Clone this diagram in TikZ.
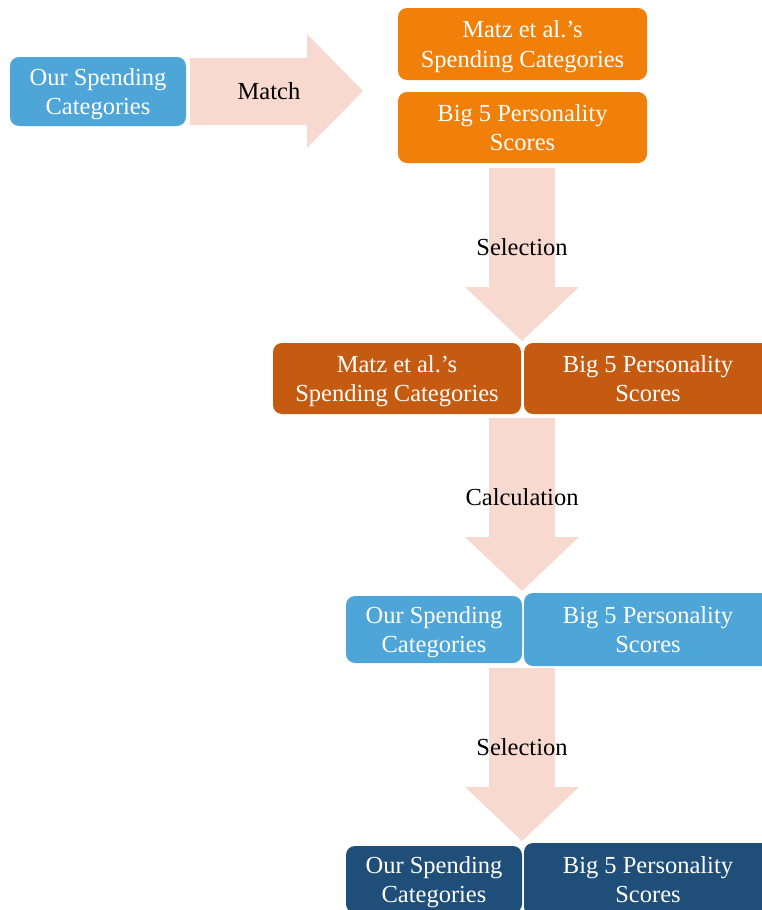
\documentclass[tikz,border=0pt]{standalone}
\usepackage{fontspec}
\setmainfont{Liberation Serif}
\definecolor{boxblue}{HTML}{4EA5D8}
\definecolor{boxorange}{HTML}{F0800A}
\definecolor{boxrust}{HTML}{C55A11}
\definecolor{boxnavy}{HTML}{1F4E79}
\definecolor{arrowpink}{HTML}{F8D9CF}
\begin{document}
\begin{tikzpicture}[x=1pt,y=-1pt,
  box/.style={rectangle, rounded corners=9pt, inner sep=0pt, align=center,
    text depth=0pt, text=white, font=\fontsize{24.5pt}{29.5pt}\selectfont},
  lbl/.style={inner sep=0pt, text=black, font=\fontsize{24.5pt}{29.5pt}\selectfont},
  arrowfill/.style={fill=arrowpink}]
\useasboundingbox (0,0) rectangle (762,910);
\clip (0,0) rectangle (762,910);
% block arrows
\newcommand\blockdown[1]{%
  \fill[arrowfill] (489,#1) -- (555,#1) -- (555,{#1+119}) -- (579,{#1+119})
    -- (522,{#1+173}) -- (465,{#1+119}) -- (489,{#1+119}) -- cycle;}
\fill[arrowfill] (190,58) -- (307,58) -- (307,34) -- (363,91) -- (307,148)
  -- (307,125) -- (190,125) -- cycle;
\blockdown{168}
\blockdown{418}
\blockdown{668}
% boxes
\node[box, fill=boxblue, minimum width=176pt, minimum height=69pt] (ours1) at (98,91.5) {Our Spending\\Categories};
\node[box, fill=boxorange, minimum width=249pt, minimum height=72pt] (matz1) at (522.5,44) {Matz et al.’s\\Spending Categories};
\node[box, fill=boxorange, minimum width=249pt, minimum height=71pt] (big1) at (522.5,127.5) {Big 5 Personality\\Scores};
\node[box, fill=boxrust, minimum width=248pt, minimum height=71pt] (matz2) at (397,378.5) {Matz et al.’s\\Spending Categories};
\node[box, fill=boxrust, minimum width=248pt, minimum height=71pt] (big2) at (648,378.5) {Big 5 Personality\\Scores};
\node[box, fill=boxblue, minimum width=176pt, minimum height=67pt] (ours3) at (434,629.5) {Our Spending\\Categories};
\node[box, fill=boxblue, minimum width=248pt, minimum height=73pt] (big3) at (648,629.5) {Big 5 Personality\\Scores};
\node[box, fill=boxnavy, minimum width=176pt, minimum height=67pt] (ours4) at (434,879.5) {Our Spending\\Categories};
\node[box, fill=boxnavy, minimum width=248pt, minimum height=73pt] (big4) at (648,879.5) {Big 5 Personality\\Scores};
% labels
\node[lbl] (match) at (269,91) {Match};
\node[lbl] (sel1) at (522,247) {Selection};
\node[lbl] (calc) at (522,497) {Calculation};
\node[lbl] (sel2) at (522,747) {Selection};
\end{tikzpicture}
\end{document}
